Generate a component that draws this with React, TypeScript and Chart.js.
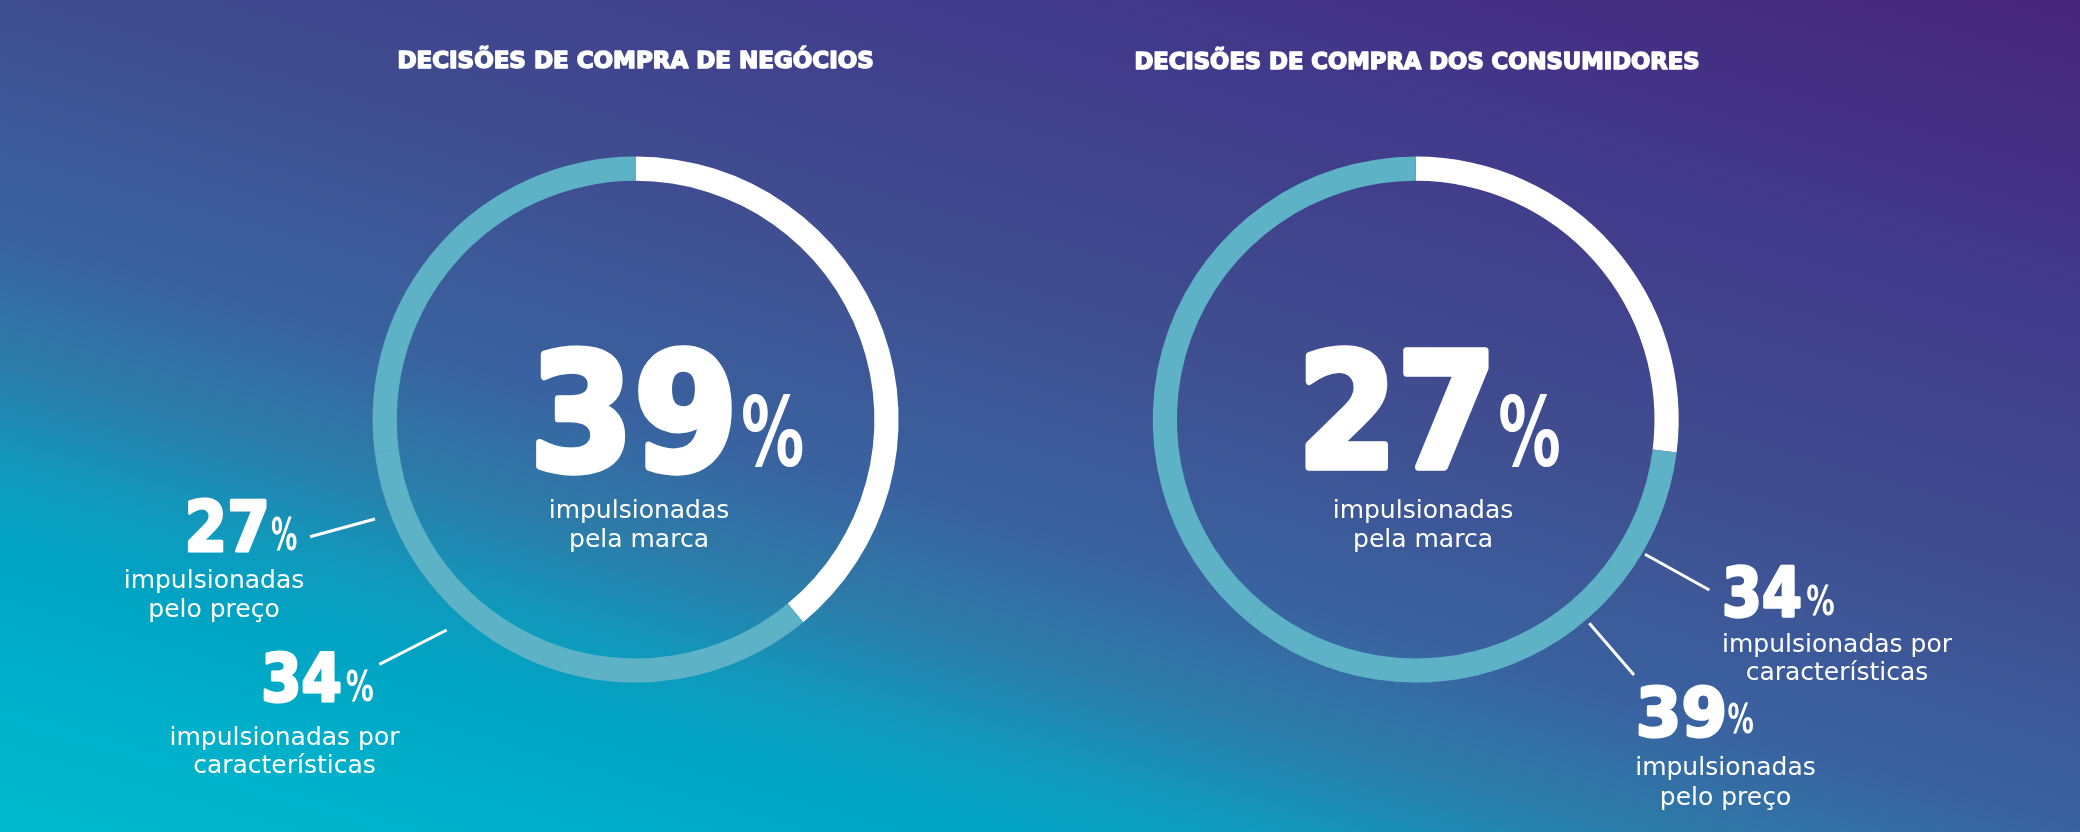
import React, { useEffect, useRef } from "react";
import { Chart, registerables } from "chart.js";

Chart.register(...registerables);

// ---------- DATA ----------
const SEGMENTS = ["marca", "características", "preço"];
const BUSINESS_VALUES = [39, 34, 27];
const CONSUMER_VALUES = [27, 34, 39];
const SEGMENT_CAPTIONS = [
  ["impulsionadas", "pela marca"],
  ["impulsionadas por", "características"],
  ["impulsionadas", "pelo preço"],
];
const TITLES = ["DECISÕES DE COMPRA DE NEGÓCIOS", "DECISÕES DE COMPRA DOS CONSUMIDORES"];
const SEGMENT_COLORS = ["#ffffff", "#5db2c6", "#5db2c6"];

// ---------- LAYOUT (annotation placement relative to each doughnut centre) ----------
const W = 2080;
const H = 832;
const HALF = 1040;

type Box = [number, number, number, number];
interface LabelLayout {
  digits: Box;
  pct: Box;
  capDx: number;
  capDy: [number, number];
  line?: Box;
  heavy: number;
}
interface ChartLayout {
  cx: number;
  cy: number;
  r: number;
  title: { dx: number; dy: number; w: number };
  labels: LabelLayout[];
}

const LAYOUTS: ChartLayout[] = [
  {
    cx: 635.6,
    cy: 419.6,
    r: 263,
    title: { dx: 0, dy: -351.1, w: 474.4 },
    labels: [
      { digits: [-100.6, -74.6, 97.4, 55.4], pct: [107.4, -25.6, 167.4, 47.4], capDx: 3.4, capDy: [98.4, 127.1], heavy: 7 },
      {
        digits: [-372.3, 230.4, -294.9, 283.7],
        pct: [-288.9, 249.4, -262.3, 281.4],
        capDx: -351.1,
        capDy: [325.4, 353.7],
        line: [-256.3, 244.7, -188.9, 210.4],
        heavy: 3,
      },
      {
        digits: [-448.3, 78.7, -368.9, 133.1],
        pct: [-363.9, 97.1, -338.9, 130.4],
        capDx: -421.6,
        capDy: [168.7, 197.1],
        line: [-325.6, 117.1, -260.6, 99.4],
        heavy: 3,
      },
    ],
  },
  {
    cx: 1415.7,
    cy: 419.6,
    r: 263,
    title: { dx: 1.3, dy: -350.3, w: 563.3 },
    labels: [
      { digits: [-111.7, -74.6, 73.6, 50.4], pct: [84.3, -25.6, 143.6, 47.1], capDx: 7.3, capDy: [98.7, 127.1], heavy: 7 },
      {
        digits: [308.3, 143.7, 385, 198.7],
        pct: [391.3, 163.7, 418.3, 195.4],
        capDx: 421.3,
        capDy: [232.1, 260.4],
        line: [229.3, 134.7, 293.6, 170.4],
        heavy: 3,
      },
      {
        digits: [222.6, 263.7, 309.3, 318.7],
        pct: [312.6, 283.1, 337.6, 313.7],
        capDx: 309.8,
        capDy: [355.4, 385.4],
        line: [173.6, 203.7, 218.3, 255.4],
        heavy: 3,
      },
    ],
  },
];

const NUM_FONT = 'bold 100px "DejaVu Sans"';
const TITLE_FONT = 'bold 23px "DejaVu Sans"';
const CAPTION_FONT = '25px "DejaVu Sans"';

function inkText(ctx: CanvasRenderingContext2D, text: string, font: string, box: Box, heavy: number) {
  ctx.save();
  ctx.font = font;
  ctx.textAlign = "left";
  ctx.textBaseline = "alphabetic";
  const m = ctx.measureText(text);
  const iw = m.actualBoundingBoxLeft + m.actualBoundingBoxRight;
  const ih = m.actualBoundingBoxAscent + m.actualBoundingBoxDescent;
  const h2 = heavy / 2;
  const x0 = box[0] + h2;
  const y0 = box[1] + h2;
  const x1 = box[2] - h2;
  const y1 = box[3] - h2;
  const sx = (x1 - x0) / iw;
  const sy = (y1 - y0) / ih;
  ctx.translate(x0, y0);
  ctx.scale(sx, sy);
  const px = m.actualBoundingBoxLeft;
  const py = m.actualBoundingBoxAscent;
  ctx.fillText(text, px, py);
  if (heavy > 0) {
    ctx.lineJoin = "round";
    ctx.lineWidth = heavy / Math.sqrt(sx * sy);
    ctx.strokeText(text, px, py);
  }
  ctx.restore();
}

const annotPlugin = {
  id: "annot",
  afterDatasetsDraw(chart: any, _args: any, opts: any) {
    const ctx: CanvasRenderingContext2D = chart.ctx;
    const meta = chart.getDatasetMeta(0);
    const arc = meta.data[0];
    if (!arc) return;
    const cx = arc.x;
    const cy = arc.y;
    const layout: ChartLayout = opts.layout;
    const values: number[] = chart.data.datasets[0].data;
    ctx.save();
    ctx.fillStyle = "#ffffff";
    ctx.strokeStyle = "#ffffff";

    // title
    ctx.font = TITLE_FONT;
    const tm = ctx.measureText(opts.title);
    const tw = tm.actualBoundingBoxLeft + tm.actualBoundingBoxRight;
    ctx.save();
    ctx.translate(cx + layout.title.dx, cy + layout.title.dy - 0.6);
    const tsx = (layout.title.w - 1.6) / tw;
    ctx.scale(tsx, 1);
    ctx.textAlign = "center";
    ctx.textBaseline = "alphabetic";
    ctx.fillText(opts.title, 0, 0);
    ctx.lineJoin = "round";
    ctx.lineWidth = 1.6;
    ctx.strokeText(opts.title, 0, 0);
    ctx.restore();

    const shift = (b: Box): Box => [b[0] + cx, b[1] + cy, b[2] + cx, b[3] + cy];

    layout.labels.forEach((lab, i) => {
      inkText(ctx, String(values[i]), NUM_FONT, shift(lab.digits), lab.heavy);
      inkText(ctx, "%", NUM_FONT, shift(lab.pct), 0);
      ctx.font = CAPTION_FONT;
      ctx.textAlign = "center";
      ctx.textBaseline = "alphabetic";
      const cap = SEGMENT_CAPTIONS[i];
      ctx.fillText(cap[0], cx + lab.capDx, cy + lab.capDy[0]);
      ctx.fillText(cap[1], cx + lab.capDx, cy + lab.capDy[1]);
      if (lab.line) {
        const l = shift(lab.line);
        ctx.lineWidth = 3;
        ctx.lineCap = "butt";
        ctx.beginPath();
        ctx.moveTo(l[0], l[1]);
        ctx.lineTo(l[2], l[3]);
        ctx.stroke();
      }
    });
    ctx.restore();
  },
};

function Donut({ idx, values }: { idx: number; values: number[] }) {
  const ref = useRef<HTMLCanvasElement | null>(null);
  useEffect(() => {
    const layout = LAYOUTS[idx];
    const offX = idx * HALF;
    const localCx = layout.cx - offX;
    const chart = new Chart(ref.current as HTMLCanvasElement, {
      type: "doughnut",
      data: {
        labels: SEGMENTS,
        datasets: [
          {
            data: values,
            backgroundColor: SEGMENT_COLORS,
            borderWidth: 0,
            hoverOffset: 0,
            offset: 0,
          },
        ],
      },
      options: {
        responsive: false,
        animation: false,
        devicePixelRatio: 1,
        events: [],
        cutout: "90.8%",
        rotation: 0,
        circumference: 360,
        layout: {
          padding: {
            left: localCx - layout.r,
            right: HALF - (localCx + layout.r),
            top: layout.cy - layout.r,
            bottom: H - (layout.cy + layout.r),
          },
        },
        plugins: {
          legend: { display: false },
          tooltip: { enabled: false },
          title: { display: false },
          annot: { layout, title: TITLES[idx] },
        } as any,
      },
      plugins: [annotPlugin],
    });
    return () => chart.destroy();
  }, [idx, values]);
  return (
    <canvas
      ref={ref}
      width={HALF}
      height={H}
      style={{ position: "absolute", left: idx * HALF, top: 0, width: HALF, height: H, display: "block" }}
    />
  );
}

export default function App() {
  return (
    <div
      style={{
        position: "absolute",
        left: 0,
        top: 0,
        width: W,
        height: H,
        overflow: "hidden",
        background:
          "linear-gradient(196deg, #46257a 0%, #42388a 20%, #3f4e90 42%, #3a62a0 58%, #2c7ca9 67%, #0e9bbe 75%, #00a3c3 80%, #00afca 88%, #00b8cc 100%)",
      }}
    >
      <Donut idx={0} values={BUSINESS_VALUES} />
      <Donut idx={1} values={CONSUMER_VALUES} />
    </div>
  );
}
